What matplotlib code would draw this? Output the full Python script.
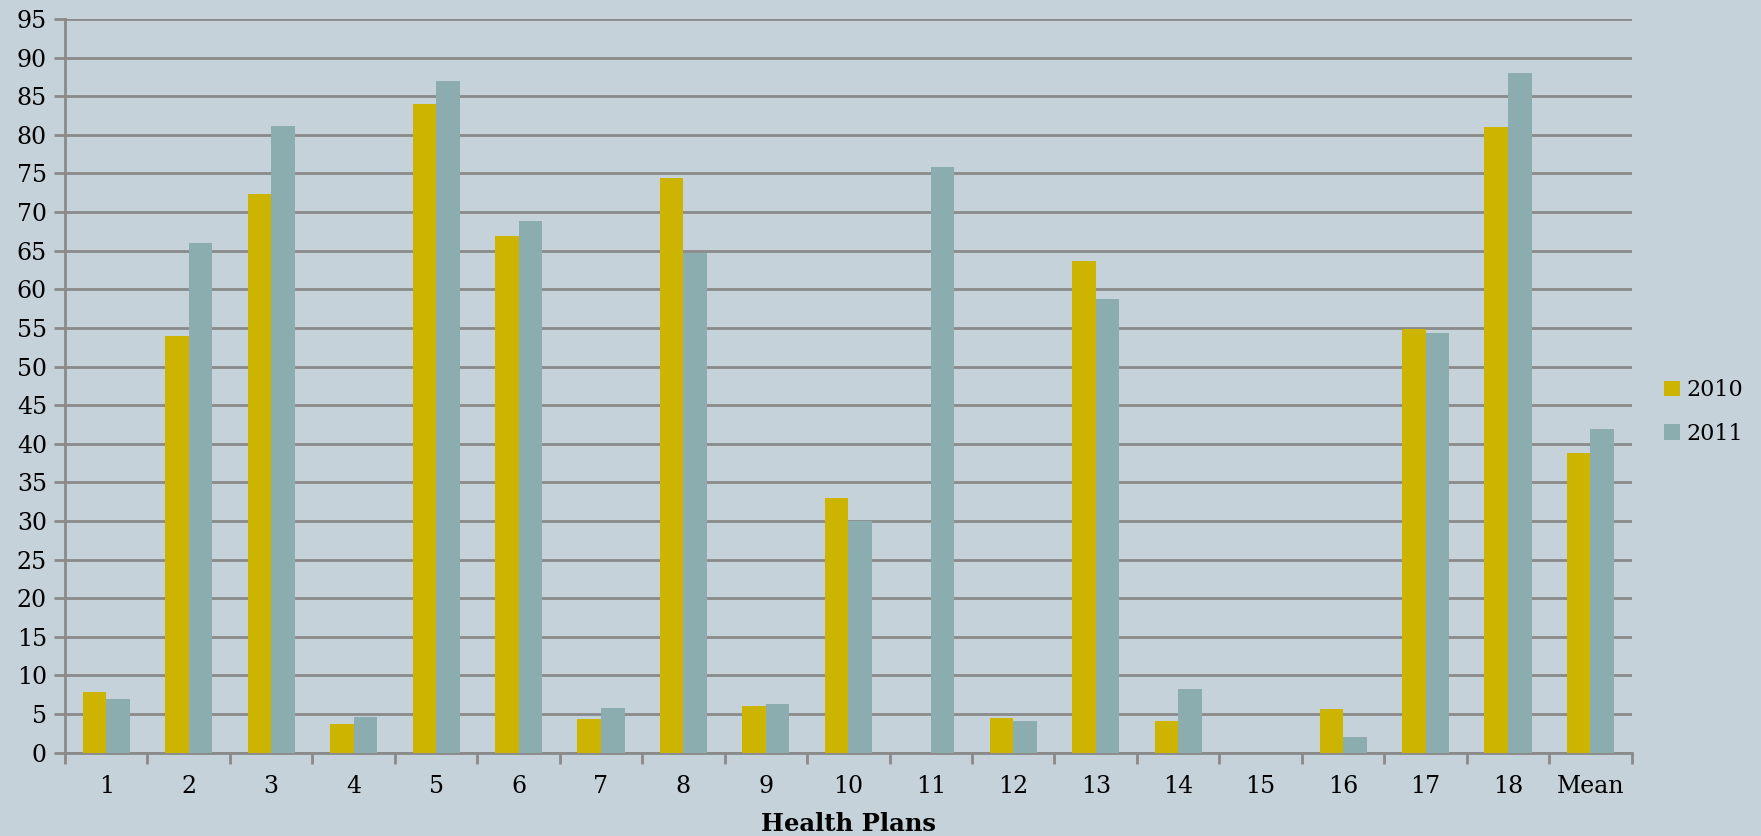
import numpy as np
import matplotlib.pyplot as plt
from matplotlib.ticker import FixedLocator, NullFormatter

plans = [str(i) for i in range(1, 19)] + ['Mean']
y2010 = [7.9, 54.0, 72.3, 3.7, 84.0, 66.9, 4.3, 74.4, 6.1, 33.0,
         0.0, 4.5, 63.7, 4.1, 0.0, 5.6, 54.9, 81.0, 38.8]
y2011 = [7.0, 66.0, 81.2, 4.6, 87.0, 68.9, 5.8, 64.7, 6.3, 30.0,
         75.9, 4.1, 58.7, 8.2, 0.0, 2.0, 54.3, 88.0, 41.9]

bg = '#c6d2d9'
gold = '#cdb400'
teal = '#8badaf'
grey = '#8a8a8a'

plt.rcParams['font.family'] = ['DejaVu Serif']

fig = plt.figure(figsize=(17.61, 8.36), dpi=100, facecolor=bg)
ax = fig.add_axes([65 / 1761, 83.3 / 836, (1631.7 - 65) / 1761, (752.7 - 19) / 836])
ax.set_facecolor(bg)

x = np.arange(len(plans))
w = 0.2857
ax.bar(x - w / 2, y2010, w, color=gold, label='2010', zorder=3)
ax.bar(x + w / 2, y2011, w, color=teal, label='2011', zorder=3)

ax.set_xlim(-0.5, len(plans) - 0.5)
ax.set_ylim(0, 95)
ax.set_yticks(range(0, 96, 5))
ax.yaxis.grid(True, color=grey, linewidth=2, zorder=0)

# category boundaries get the tick marks, centres get the labels
ax.xaxis.set_major_locator(FixedLocator(np.arange(-0.5, len(plans), 1.0)))
ax.xaxis.set_major_formatter(NullFormatter())
ax.set_xticks(x, plans, minor=True)
ax.tick_params(axis='x', which='major', length=8, width=2, color=grey)
ax.tick_params(axis='x', which='minor', length=0, pad=16, labelsize=17)
ax.tick_params(axis='y', length=8, width=2, color=grey, pad=5, labelsize=17)

for s in ['top', 'right']:
    ax.spines[s].set_visible(False)
for s in ['left', 'bottom']:
    ax.spines[s].set_color(grey)
    ax.spines[s].set_linewidth(2)

ax.set_xlabel('Health Plans', fontsize=17.5, fontweight='bold', labelpad=10)

fig.legend(loc='center left', bbox_to_anchor=(1664 / 1761, 1 - 412 / 836),
           frameon=False, fontsize=16, handlelength=0.7, handleheight=0.7,
           handletextpad=0.3, labelspacing=0.95, borderpad=0, borderaxespad=0)

fig.savefig('out.png', dpi=100, facecolor=bg)
